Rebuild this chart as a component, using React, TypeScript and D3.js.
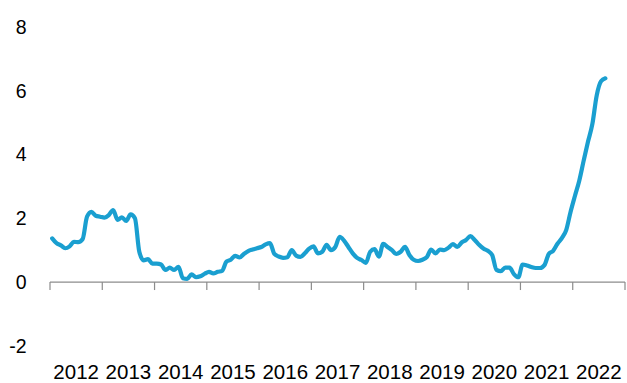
import React from "react";
import * as d3 from "d3";

const years = ["2012","2013","2014","2015","2016","2017","2018","2019","2020","2021","2022"];
const yTicks = [-2, 0, 2, 4, 6, 8];
// monthly values, Jan 2012 onward
const values = [
  1.37,1.22,1.15,1.06,1.12,1.26,1.25,1.35,2.05,2.2,2.08,2.05,
  2.02,2.1,2.26,1.95,2.03,1.92,2.12,2.0,0.95,0.68,0.72,0.58,
  0.58,0.55,0.38,0.45,0.38,0.48,0.12,0.1,0.24,0.15,0.18,0.26,
  0.32,0.27,0.32,0.35,0.64,0.7,0.82,0.77,0.88,0.97,1.02,1.06,
  1.1,1.18,1.22,0.88,0.8,0.76,0.78,1.0,0.83,0.79,0.9,1.05,
  1.12,0.9,0.95,1.17,1.0,1.1,1.42,1.3,1.1,0.9,0.76,0.69,
  0.6,0.95,1.03,0.8,1.2,1.1,1.0,0.88,0.95,1.1,0.85,0.7,
  0.66,0.7,0.78,1.02,0.9,1.02,1.0,1.08,1.19,1.1,1.24,1.32,
  1.44,1.32,1.17,1.05,0.98,0.85,0.38,0.34,0.45,0.45,0.25,0.15,
  0.55,0.52,0.47,0.44,0.44,0.53,0.88,0.98,1.2,1.38,1.63,2.2,
  2.7,3.18,3.8,4.4,4.95,5.85,6.3,6.39
];

export default function App() {
  const W = 627, H = 383;
  const x0 = 50, x1 = 625;
  const xBand = d3.scaleBand<string>().domain(years).range([x0, x1]).padding(0);
  const xMonth = d3.scaleLinear().domain([0, years.length * 12]).range([x0, x1]);
  const y = d3.scaleLinear().domain([-2, 8]).range([345.8, 27]);
  const line = d3.line<number>()
    .x((_, i) => xMonth(i + 0.5))
    .y((d) => y(d))
    .curve(d3.curveMonotoneX);
  const font = "'Liberation Sans', Arial, sans-serif";
  const tickXs = years.map((yr) => xBand(yr) as number).concat([x1]);
  return (
    <svg width={W} height={H} style={{ position: "absolute", left: 0, top: 0 }}>
      <rect width={W} height={H} fill="#fff" />
      {yTicks.map((t) => (
        <text key={t} x={26.5} y={y(t)} dy="0.35em" textAnchor="end" fontFamily={font} fontSize={19.5} fill="#000">
          {t}
        </text>
      ))}
      <line x1={x0} x2={x1} y1={y(0)} y2={y(0)} stroke="#8c8c8c" strokeWidth={1.2} />
      {tickXs.map((tx, i) => (
        <line key={i} x1={tx} x2={tx} y1={y(0)} y2={y(0) + 8} stroke="#8c8c8c" strokeWidth={1.2} />
      ))}
      {years.map((yr) => (
        <text key={yr} x={(xBand(yr) as number) + xBand.bandwidth() / 2} y={379} textAnchor="middle" fontFamily={font} fontSize={20.5} fill="#000">
          {yr}
        </text>
      ))}
      <path d={line(values) || ""} fill="none" stroke="#1a9fd0" strokeWidth={4.2} strokeLinejoin="round" strokeLinecap="round" />
    </svg>
  );
}
